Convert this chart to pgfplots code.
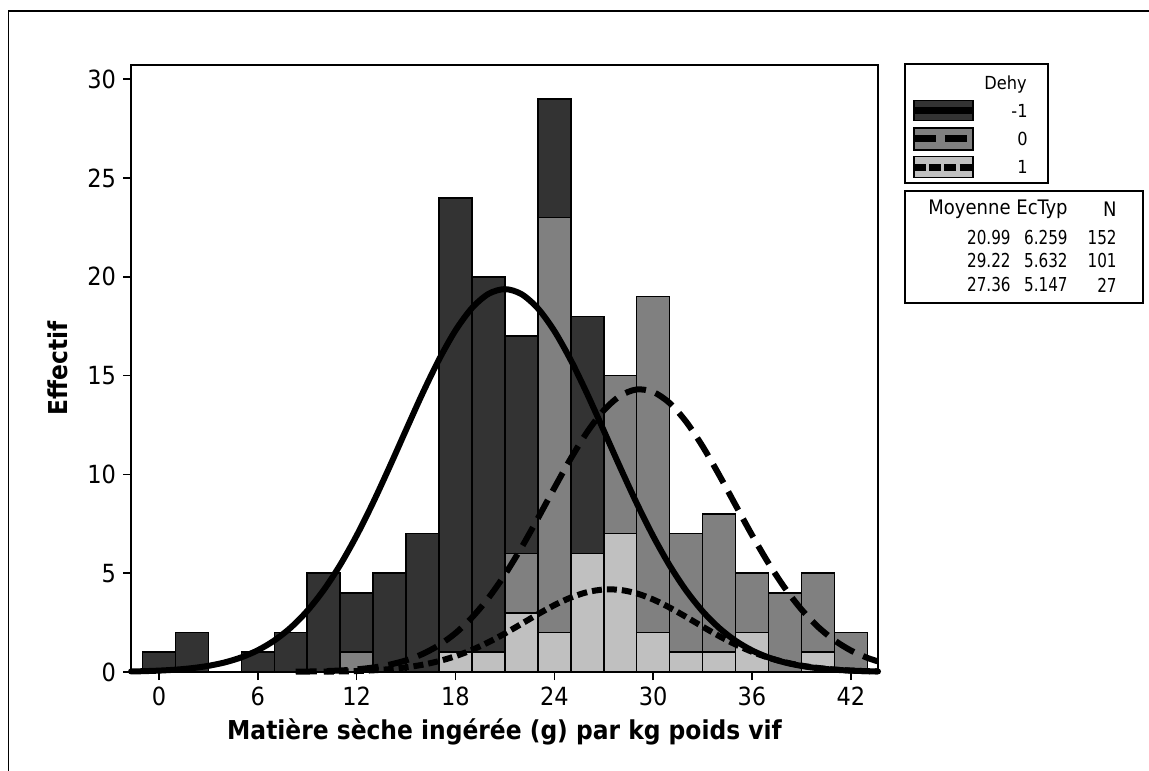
\documentclass[border=0pt]{standalone}
\usepackage{pgfplots}
\pgfplotsset{compat=1.18}
\usepackage{fontspec}
\setmainfont{DejaVu Sans Condensed}[BoldFont={DejaVu Sans Condensed Bold}]
\newfontfamily\narrowfont{DejaVu Sans Condensed}[FakeStretch=0.88]
\definecolor{darkbar}{HTML}{333333}
\definecolor{midbar}{HTML}{808080}
\definecolor{lightbar}{HTML}{C0C0C0}
\newcommand\tickfont{\fontsize{12.5}{15}\selectfont}
\newcommand\labfont{\fontsize{13}{15}\selectfont\bfseries}
\newcommand\legfont{\fontsize{9}{11}\selectfont}
\newcommand\hdrfont{\fontsize{10}{12}\selectfont}
\newcommand\numfont{\narrowfont\fontsize{9.6}{11}\selectfont}
\begin{document}
\begin{tikzpicture}[x=1pt,y=1pt]
\useasboundingbox (0,0) rectangle (574.5,385);
\draw[line width=0.75pt] (4.15,-5) -- (4.15,379.5) -- (590,379.5);
\begin{axis}[
  at={(65.5pt,49pt)}, anchor=south west,
  scale only axis, width=373.5pt, height=303.5pt,
  xmin=-1.7, xmax=43.65, ymin=0, ymax=30.72,
  clip=false,
  axis line style={line width=0.75pt},
  tick style={line width=0.75pt, black},
  tick align=outside, tick pos=left, major tick length=4pt,
  xtick={0,6,...,42}, ytick={0,5,...,30},
  /pgf/number format/assume math mode=true,
  ticklabel style={font=\tickfont},
  xlabel={Matière sèche ingérée (g) par kg poids vif},
  ylabel={Effectif},
  xlabel style={font=\labfont, at={(axis description cs:0.5,-0.112)}, anchor=base},
  ylabel style={font=\labfont, at={(axis description cs:-0.0977,0.5)}, anchor=center, rotate=0},
]
% Dehy = -1 (back)
\addplot[ybar, bar width=2, bar shift=0pt, fill=darkbar, draw=black, line width=0.8pt] coordinates {
 (0,1) (2,2) (6,1) (8,2) (10,5) (12,4) (14,5) (16,7) (18,24) (20,20) (22,17) (24,29) (26,18)};
% Dehy = 0 (middle)
\addplot[ybar, bar width=2, bar shift=0pt, fill=midbar, draw=black, line width=0.8pt] coordinates {
 (12,1) (22,6) (24,23) (28,15) (30,19) (32,7) (34,8) (36,5) (38,4) (40,5) (42,2)};
% Dehy = 1 (front)
\addplot[ybar, bar width=2, bar shift=0pt, fill=lightbar, draw=black, line width=0.8pt] coordinates {
 (18,1) (20,1) (22,3) (24,2) (26,6) (28,7) (30,2) (32,1) (34,1) (36,2) (40,1)};
% fitted normal curves (tabulated)
\addplot[black, line width=3pt, smooth, line cap=round] coordinates {
 (-1.7,0.0271) (-1,0.0404) (0,0.0700) (1,0.1181) (2,0.1942) (3,0.3114) (4,0.4868) (5,0.7416)
 (6,1.1012) (7,1.5943) (8,2.2492) (9,3.0931) (10,4.1478) (11,5.4214) (12,6.9073) (13,8.5785)
 (14,10.3865) (15,12.2566) (16,14.1017) (17,15.8136) (18,17.2873) (19,18.4215) (20,19.1358)
 (21,19.3766) (22,19.1259) (23,18.4027) (24,17.2607) (25,15.7815) (26,14.0657) (27,12.2192)
 (28,10.3495) (29,8.5436) (30,6.8754) (31,5.3935) (32,4.1243) (33,3.0745) (34,2.2340)
 (35,1.5824) (36,1.0924) (37,0.7355) (38,0.4824) (39,0.3086) (40,0.1923) (41,0.1169)
 (42,0.0693) (43,0.0400) (43.65,0.0276)};
\addplot[black, line width=3pt, smooth, dash pattern=on 10.5pt off 5pt] coordinates {
 (8.3,0.0144) (9,0.0227) (10,0.0423) (11,0.0763) (12,0.1335) (13,0.2262) (14,0.3713) (15,0.5906)
 (16,0.9102) (17,1.3593) (18,1.9667) (19,2.7580) (20,3.7469) (21,4.9321) (22,6.2911) (23,7.7761)
 (24,9.3127) (25,10.8063) (26,12.1511) (27,13.2392) (28,13.9769) (29,14.2978) (30,14.1721)
 (31,13.6116) (32,12.6674) (33,11.4231) (34,9.9806) (35,8.4507) (36,6.9327) (37,5.5109)
 (38,4.2447) (39,3.1679) (40,2.2911) (41,1.6054) (42,1.0900) (43,0.7172) (43.65,0.5372)};
\addplot[black, line width=3pt, smooth, dash pattern=on 5pt off 2.5pt] coordinates {
 (10,0.0142) (11,0.0268) (12,0.0488) (13,0.0854) (14,0.1441) (15,0.2342) (16,0.3664) (17,0.5521)
 (18,0.8009) (19,1.1191) (20,1.5057) (21,1.9507) (22,2.4337) (23,2.9237) (24,3.3823) (25,3.7679)
 (26,4.0419) (27,4.1753) (28,4.1533) (29,3.9783) (30,3.6697) (31,3.2595) (32,2.7880) (33,2.2963)
 (34,1.8212) (35,1.3910) (36,1.0230) (37,0.7244) (38,0.4941) (39,0.3245) (40,0.2052) (41,0.1250)
 (42,0.0733) (43,0.0414) (43.65,0.0280)};
\end{axis}
% legend box 1
\draw[line width=0.75pt] (452.5,293.5) rectangle (524,353);
\node[anchor=east, font=\legfont, inner sep=0pt] at (513.5,342.5) {Dehy};
\fill[darkbar] (457,324.65) rectangle (486.5,334.65);
\draw[line width=0.6pt] (457,324.65) rectangle (486.5,334.65);
\draw[line width=3.5pt] (457,329.65) -- (486.5,329.65);
\node[anchor=east, font=\legfont, inner sep=0pt] at (514,329.65) {-1};
\fill[midbar] (457,310) rectangle (486.5,321);
\draw[line width=0.6pt] (457,310) rectangle (486.5,321);
\draw[line width=3.5pt, dash pattern=on 11pt off 4.5pt] (457,315.5) -- (486.5,315.5);
\node[anchor=east, font=\legfont, inner sep=0pt] at (514,315.5) {0};
\fill[lightbar] (457,296.15) rectangle (486.5,306.65);
\draw[line width=0.6pt] (457,296.15) rectangle (486.5,306.65);
\draw[line width=3.5pt, dash pattern=on 6pt off 1.6pt] (457,301.4) -- (486.5,301.4);
\node[anchor=east, font=\legfont, inner sep=0pt] at (514,301.4) {1};
% legend box 2
\draw[line width=0.75pt] (452.5,233.5) rectangle (571.5,289.5);
\node[anchor=east, font=\hdrfont, inner sep=0pt] at (505.5,280.5) {Moyenne};
\node[anchor=east, font=\hdrfont, inner sep=0pt] at (534,280.5) {EcTyp};
\node[anchor=east, font=\hdrfont, inner sep=0pt] at (558.5,280.5) {N};
\foreach \y/\a/\b/\c in {266/20.99/6.259/152, 254.5/29.22/5.632/101, 242.5/27.36/5.147/27}{
  \node[anchor=east, font=\numfont, inner sep=0pt] at (505.5,\y) {\a};
  \node[anchor=east, font=\numfont, inner sep=0pt] at (534,\y) {\b};
  \node[anchor=east, font=\numfont, inner sep=0pt] at (558.5,\y) {\c};
}
\end{tikzpicture}
\end{document}
